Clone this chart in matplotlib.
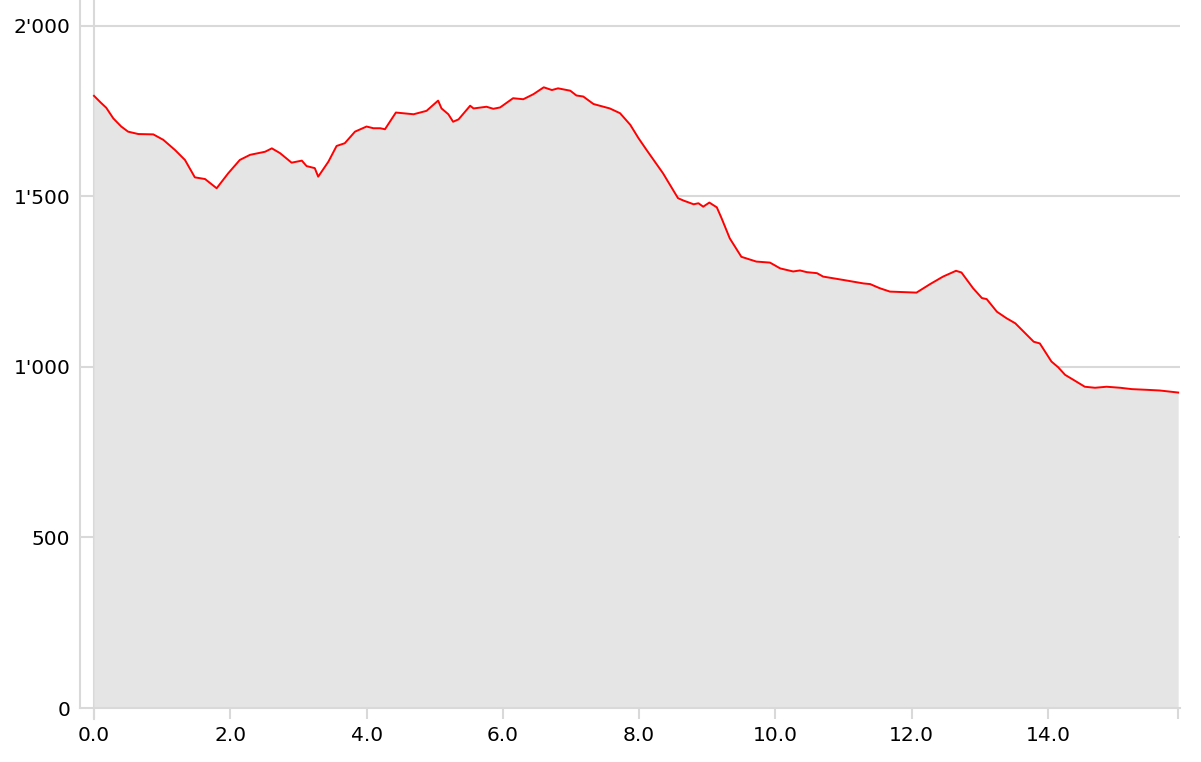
import matplotlib
matplotlib.use("Agg")
import matplotlib.pyplot as plt
from matplotlib.ticker import FuncFormatter, FixedLocator

distance_km = [0.00, 0.10, 0.18, 0.283, 0.40, 0.50, 0.65, 0.87, 1.017, 1.19, 1.335, 1.48, 1.63, 1.80,
               1.97, 2.14, 2.29, 2.51, 2.61, 2.73, 2.90, 3.05, 3.12, 3.24, 3.29, 3.44, 3.56,
               3.68, 3.83, 4.00, 4.10, 4.20, 4.27, 4.43, 4.69, 4.88, 5.05, 5.10, 5.20, 5.27,
               5.35, 5.52, 5.57, 5.76, 5.86, 5.96, 6.15, 6.30, 6.45, 6.60, 6.72, 6.81, 6.99,
               7.08, 7.18, 7.33, 7.57, 7.72, 7.87, 7.99, 8.11, 8.35, 8.57, 8.65, 8.80, 8.87,
               8.94, 9.03, 9.14, 9.21, 9.33, 9.50, 9.72, 9.92, 10.07, 10.26, 10.36, 10.46,
               10.61, 10.70, 11.00, 11.29, 11.39, 11.53, 11.68, 12.07, 12.27, 12.46, 12.65,
               12.73, 12.90, 13.03, 13.10, 13.25, 13.39, 13.52, 13.64, 13.79, 13.88, 14.05,
               14.15, 14.25, 14.40, 14.54, 14.69, 14.86, 15.06, 15.23, 15.45, 15.64, 15.91]
elevation_m = [1795, 1775, 1760, 1729, 1705, 1690, 1683, 1682, 1666, 1636, 1607, 1556, 1551, 1524,
               1568, 1607, 1622, 1631, 1641, 1627, 1599, 1605, 1589, 1583, 1558, 1602, 1648,
               1656, 1690, 1705, 1700, 1700, 1697, 1746, 1741, 1751, 1781, 1758, 1741, 1719,
               1726, 1766, 1758, 1763, 1757, 1761, 1788, 1785, 1800, 1820, 1812, 1817, 1810,
               1796, 1793, 1771, 1758, 1744, 1710, 1671, 1636, 1568, 1495, 1488, 1477, 1480,
               1470, 1482, 1468, 1436, 1377, 1323, 1309, 1306, 1289, 1280, 1283, 1278,
               1275, 1265, 1255, 1245, 1243, 1231, 1221, 1218, 1243, 1265, 1282,
               1277, 1231, 1202, 1199, 1162, 1143, 1128, 1104, 1074, 1069, 1016,
               999, 977, 959, 942, 939, 942, 939, 935, 933, 931, 925]

x_ticks = [0, 2, 4, 6, 8, 10, 12, 14]
y_ticks = [0, 500, 1000, 1500, 2000]

grid_color = "#d9d9d9"

fig = plt.figure(figsize=(12.01, 7.62), dpi=100)
ax = fig.add_axes([80 / 1201, 54 / 762, 1100 / 1201, 708 / 762])

x_end = distance_km[-1]
ax.set_xlim(-0.2054, 15.937)
ax.set_ylim(0, 2076)

for yv in y_ticks[1:]:
    ax.axhline(yv, color=grid_color, lw=1.5, zorder=0)
ax.axvline(0, color=grid_color, lw=1.5, zorder=0.5, ymin=-11 / 708, clip_on=False)

ax.fill_between(distance_km, elevation_m, 0, color="#e5e5e5", lw=0, zorder=1)
ax.plot(distance_km, elevation_m, color="#ff0000", lw=1.4, zorder=3)

for s in ["top", "right"]:
    ax.spines[s].set_visible(False)
ax.spines["left"].set_color(grid_color)
ax.spines["left"].set_linewidth(1.5)
ax.spines["bottom"].set_color(grid_color)
ax.spines["bottom"].set_linewidth(1.5)

ax.xaxis.set_major_locator(FixedLocator(x_ticks + [x_end]))
ax.xaxis.set_major_formatter(FuncFormatter(lambda v, p: "" if v > 15 else f"{v:.1f}"))
ax.yaxis.set_major_locator(FixedLocator(y_ticks))
ax.yaxis.set_major_formatter(FuncFormatter(lambda v, p: f"{int(v):,}".replace(",", "'")))

ax.tick_params(axis="x", length=8, width=1.5, color=grid_color, labelsize=14.5, pad=5)
ax.tick_params(axis="y", length=0, labelsize=14.5, pad=7)

fig.savefig("out.png", dpi=100)
